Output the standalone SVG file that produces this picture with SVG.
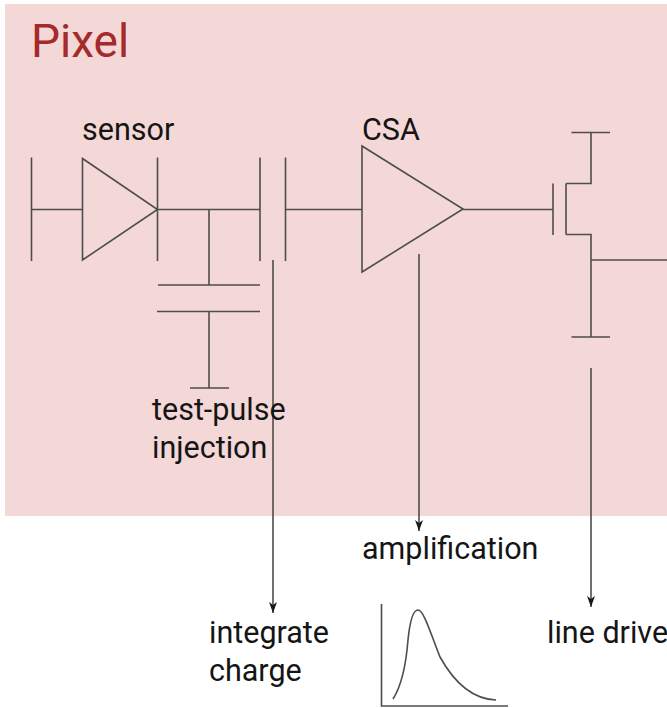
<svg xmlns="http://www.w3.org/2000/svg" width="667" height="708" viewBox="0 0 667 708">
<style>
text{font-family:Roboto,"Liberation Sans",sans-serif;font-size:30.500px;fill:#151515}
.title{font-size:46px;fill:#a52a2a}
.w{fill:none;stroke:#4d4d4d;stroke-width:1.600}
</style>
<defs><marker id="arrow" markerUnits="userSpaceOnUse" markerWidth="12" markerHeight="8" refX="11" refY="4" orient="auto" viewBox="0 0 12 8"><path d="M0 0L3 4L0 8L11 4Z" fill="#1a1a1a"/></marker></defs>
<rect id="pixel-bg" x="5" y="4" width="662" height="512" fill="#f4d7d7"/>
<g id="pixel-label"><text class="title" x="31" y="57">Pixel</text></g>
<g id="sensor"><path class="w" d="M31.500 157.500V261M31.500 209.500H82.500M82.500 158.500L157.500 209.500L82.500 260ZM157.500 157.500V261"/><text x="82" y="140">sensor</text></g>
<g id="injection-cap"><path class="w" d="M158 285H260M157 311.500H260M209 311.500V388M190 388H229"/></g>
<g id="integrator-cap"><path class="w" d="M260 157.500V261M285.500 157.500V261"/></g>
<g id="csa"><path class="w" d="M362 146L463 209L362 272Z"/><text x="362" y="140">CSA</text></g>
<g id="driver"><path class="w" d="M553 183.500V235M566 183.500V234.500M566 183.500H591V133M571.500 132.500H610M566 234.500H591V337M571.500 337H610M591 260H667"/></g>
<g id="shape-plot"><path class="w" d="M381.500 604V706H508"/><path class="w" d="M393 699C402 685 406 665 408 640C410 620 413 610 418 610C424 610 431 635 440 657C450 675 468 699 496 700"/></g>
<g id="connectors"><path class="w" d="M158 209.500H260M209 209.500V285M285.500 209.500H362M463 209.500H553"/><path class="w" d="M273 260V613" marker-end="url(#arrow)"/><path class="w" d="M419 254V531" marker-end="url(#arrow)"/><path class="w" d="M591 368V607" marker-end="url(#arrow)"/></g>
<g id="test-pulse-label"><text x="152" y="420">test-pulse</text><text x="152" y="458">injection</text></g>
<g id="amplification-label"><text x="362" y="559">amplification</text></g>
<g id="integrate-label"><text x="209" y="643">integrate</text><text x="209" y="681">charge</text></g>
<g id="line-drive-label"><text x="547" y="643">line drive</text></g>
</svg>
